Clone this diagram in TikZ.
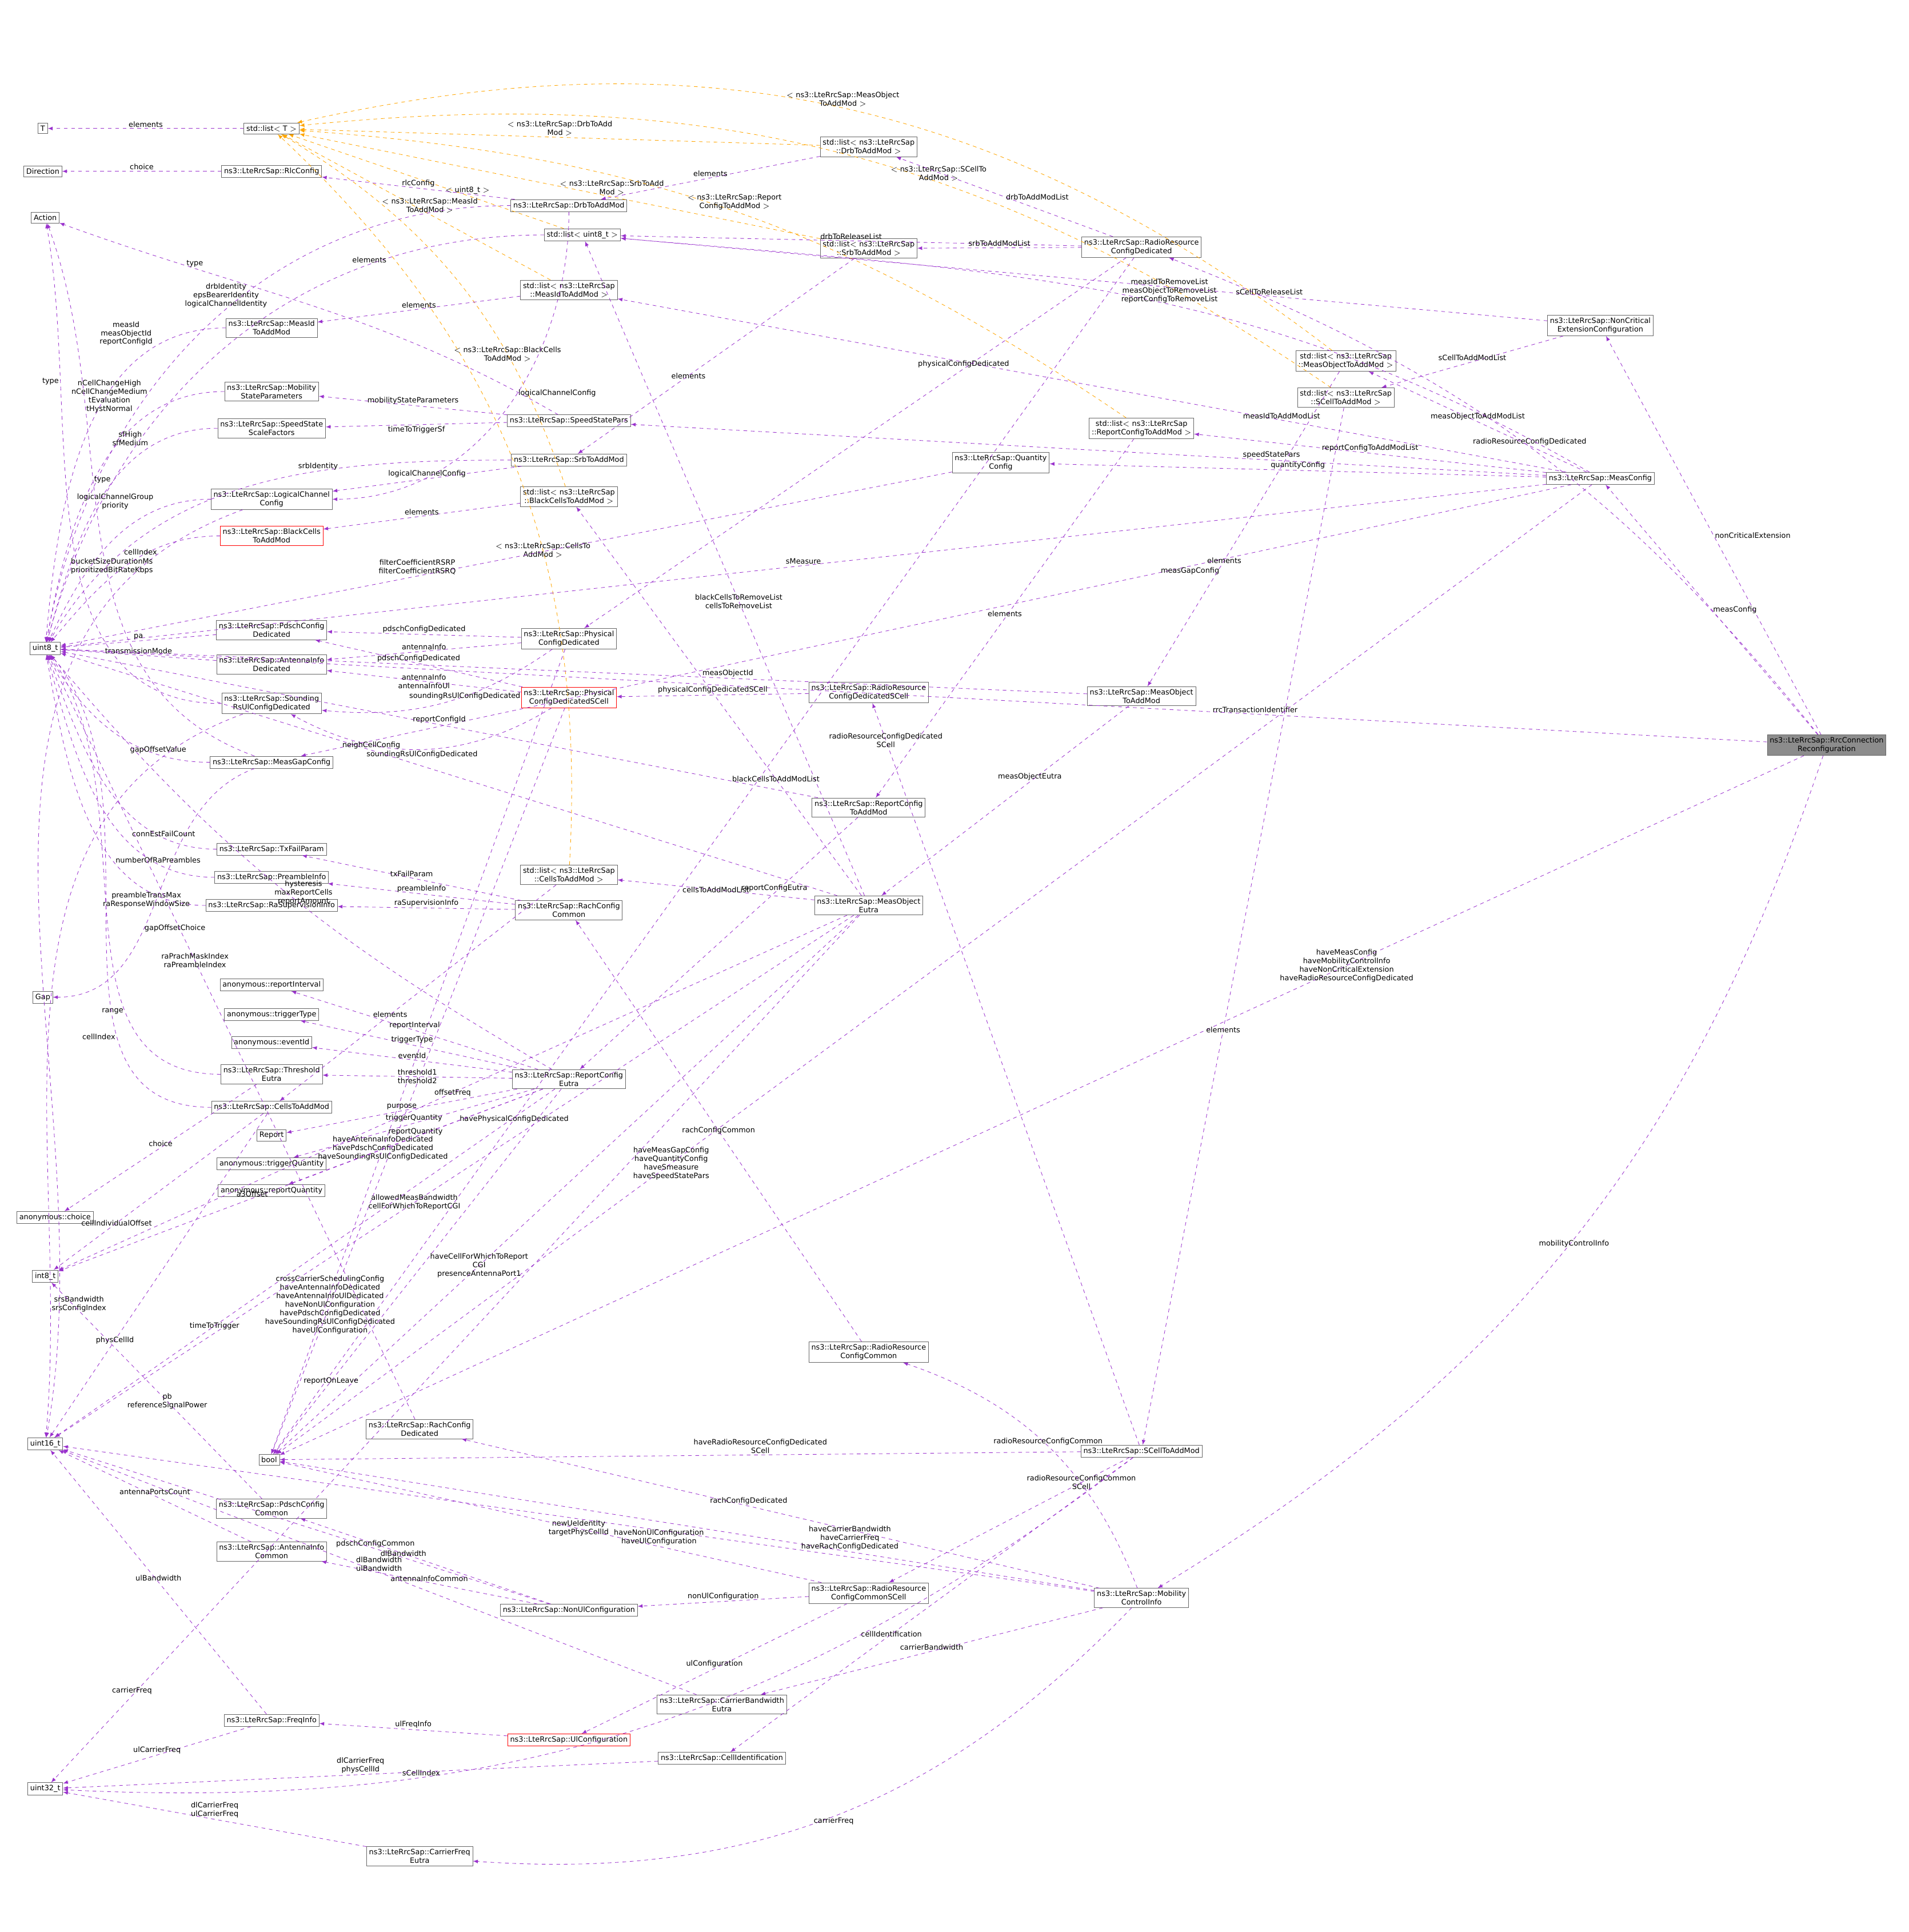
\documentclass[tikz,border=0pt]{standalone}
\usepackage{fontspec}
\setmainfont{DejaVu Sans}
\usetikzlibrary{arrows}
\definecolor{dep}{HTML}{9A32CD}
\definecolor{tpl}{HTML}{FFA500}
\begin{document}
\begin{tikzpicture}[x=1pt,y=-1pt,
box/.style={draw=black!60, fill=white, inner sep=2pt, align=center, font=\fontsize{6}{7}\selectfont},
redbox/.style={box, draw=red},
dep/.style={->, dashed, draw=dep},
tpl/.style={->, dashed, draw=tpl},
lbl/.style={font=\fontsize{6}{7}\selectfont, align=center, inner sep=1pt},
>=latex
]
\useasboundingbox (0,0) rectangle (1560,1579);
% left column
\node[box] (T) at (35,105) {T};
\node[box] (dir) at (35,140) {Direction};
\node[box] (act) at (37,178) {Action};
\node[box] (u8) at (37,530) {uint8\_t};
\node[box] (gap) at (35,815) {Gap};
\node[box] (achoice) at (45,995) {anonymous::choice};
\node[box] (i8) at (37,1043) {int8\_t};
\node[box] (u16) at (37,1180) {uint16\_t};
\node[box] (bool) at (220,1193) {bool};
\node[box] (u32) at (37,1462) {uint32\_t};
% second column
\node[box] (listT) at (222,105) {std::list$<$ T $>$};
\node[box] (rlc) at (222,140) {ns3::LteRrcSap::RlcConfig};
\node[box] (measid) at (222,268) {ns3::LteRrcSap::MeasId\\ToAddMod};
\node[box] (mobst) at (222,320) {ns3::LteRrcSap::Mobility\\StateParameters};
\node[box] (ssf) at (222,350) {ns3::LteRrcSap::SpeedState\\ScaleFactors};
\node[box] (lcc) at (222,408) {ns3::LteRrcSap::LogicalChannel\\Config};
\node[redbox] (black) at (222,438) {ns3::LteRrcSap::BlackCells\\ToAddMod};
\node[box] (pdschd) at (222,515) {ns3::LteRrcSap::PdschConfig\\Dedicated};
\node[box] (antd) at (222,543) {ns3::LteRrcSap::AntennaInfo\\Dedicated};
\node[box] (srs) at (222,575) {ns3::LteRrcSap::Sounding\\RsUlConfigDedicated};
\node[box] (mgap) at (222,623) {ns3::LteRrcSap::MeasGapConfig};
\node[box] (txf) at (222,694) {ns3::LteRrcSap::TxFailParam};
\node[box] (pre) at (222,717) {ns3::LteRrcSap::PreambleInfo};
\node[box] (rasup) at (222,740) {ns3::LteRrcSap::RaSupervisionInfo};
\node[box] (rint) at (222,805) {anonymous::reportInterval};
\node[box] (ttype) at (222,829) {anonymous::triggerType};
\node[box] (evid) at (222,852) {anonymous::eventId};
\node[box] (thr) at (222,878) {ns3::LteRrcSap::Threshold\\Eutra};
\node[box] (cells) at (222,905) {ns3::LteRrcSap::CellsToAddMod};
\node[box] (report) at (222,928) {Report};
\node[box] (tq) at (222,951) {anonymous::triggerQuantity};
\node[box] (rq) at (222,973) {anonymous::reportQuantity};
\node[box] (pdschc) at (222,1233) {ns3::LteRrcSap::PdschConfig\\Common};
\node[box] (antc) at (222,1268) {ns3::LteRrcSap::AntennaInfo\\Common};
\node[box] (freq) at (222,1406) {ns3::LteRrcSap::FreqInfo};
% third column
\node[box] (drb) at (465,168) {ns3::LteRrcSap::DrbToAddMod};
\node[box] (listu8) at (476,192) {std::list$<$ uint8\_t $>$};
\node[box] (listmeasid) at (465,237) {std::list$<$ ns3::LteRrcSap\\::MeasIdToAddMod $>$};
\node[box] (ssp) at (465,344) {ns3::LteRrcSap::SpeedStatePars};
\node[box] (srb) at (465,376) {ns3::LteRrcSap::SrbToAddMod};
\node[box] (listblack) at (465,406) {std::list$<$ ns3::LteRrcSap\\::BlackCellsToAddMod $>$};
\node[box] (pcd) at (465,522) {ns3::LteRrcSap::Physical\\ConfigDedicated};
\node[redbox] (pcds) at (465,570) {ns3::LteRrcSap::Physical\\ConfigDedicatedSCell};
\node[box] (listcells) at (465,715) {std::list$<$ ns3::LteRrcSap\\::CellsToAddMod $>$};
\node[box] (rachc) at (465,744) {ns3::LteRrcSap::RachConfig\\Common};
\node[box] (rce) at (465,882) {ns3::LteRrcSap::ReportConfig\\Eutra};
\node[box] (nonul) at (465,1316) {ns3::LteRrcSap::NonUlConfiguration};
\node[box] (rachd) at (343,1168) {ns3::LteRrcSap::RachConfig\\Dedicated};
\node[box] (cbw) at (590,1393) {ns3::LteRrcSap::CarrierBandwidth\\Eutra};
\node[redbox] (ul) at (465,1422) {ns3::LteRrcSap::UlConfiguration};
\node[box] (cid) at (590,1437) {ns3::LteRrcSap::CellIdentification};
\node[box] (cfe) at (343,1517) {ns3::LteRrcSap::CarrierFreq\\Eutra};
% fourth column
\node[box] (listdrb) at (710,120) {std::list$<$ ns3::LteRrcSap\\::DrbToAddMod $>$};
\node[box] (listsrb) at (710,203) {std::list$<$ ns3::LteRrcSap\\::SrbToAddMod $>$};
\node[box] (rrcds) at (710,566) {ns3::LteRrcSap::RadioResource\\ConfigDedicatedSCell};
\node[box] (rcam) at (710,660) {ns3::LteRrcSap::ReportConfig\\ToAddMod};
\node[box] (moe) at (710,740) {ns3::LteRrcSap::MeasObject\\Eutra};
\node[box] (rrcc) at (710,1105) {ns3::LteRrcSap::RadioResource\\ConfigCommon};
\node[box] (rrccs) at (710,1302) {ns3::LteRrcSap::RadioResource\\ConfigCommonSCell};
% fifth column
\node[box] (rrcd) at (933,202) {ns3::LteRrcSap::RadioResource\\ConfigDedicated};
\node[box] (qc) at (818,378) {ns3::LteRrcSap::Quantity\\Config};
\node[box] (listrc) at (933,350) {std::list$<$ ns3::LteRrcSap\\::ReportConfigToAddMod $>$};
\node[box] (moam) at (933,569) {ns3::LteRrcSap::MeasObject\\ToAddMod};
\node[box] (scell) at (933,1186) {ns3::LteRrcSap::SCellToAddMod};
\node[box] (mci) at (933,1306) {ns3::LteRrcSap::Mobility\\ControlInfo};
% right columns
\node[box] (listmo) at (1100,295) {std::list$<$ ns3::LteRrcSap\\::MeasObjectToAddMod $>$};
\node[box] (listsc) at (1100,325) {std::list$<$ ns3::LteRrcSap\\::SCellToAddMod $>$};
\node[box] (nce) at (1308,266) {ns3::LteRrcSap::NonCritical\\ExtensionConfiguration};
\node[box] (mc) at (1308,391) {ns3::LteRrcSap::MeasConfig};
\node[box, fill=black!45] (rcr) at (1493,609) {ns3::LteRrcSap::RrcConnection\\Reconfiguration};

% template instances
\draw[tpl] (listdrb) -- node[lbl,above] {$<$ ns3::LteRrcSap::DrbToAdd\\Mod $>$} (listT);
\draw[tpl] (listsrb) -- node[lbl,above,pos=0.4] {$<$ ns3::LteRrcSap::SrbToAdd\\Mod $>$} (listT);
\draw[tpl] (listu8) -- node[lbl,above,pos=0.35] {$<$ uint8\_t $>$} (listT);
\draw[tpl] (listmeasid) -- node[lbl,above,pos=0.45] {$<$ ns3::LteRrcSap::MeasId\\ToAddMod $>$} (listT);
\draw[tpl] (listblack) to[bend right=20] node[lbl,pos=0.3] {$<$ ns3::LteRrcSap::BlackCells\\ToAddMod $>$} (listT);
\draw[tpl] (listcells) to[bend right=25] node[lbl,pos=0.38] {$<$ ns3::LteRrcSap::CellsTo\\AddMod $>$} (listT);
\draw[tpl] (listmo) to[bend right=25] node[lbl,above] {$<$ ns3::LteRrcSap::MeasObject\\ToAddMod $>$} (listT);
\draw[tpl] (listsc) to[bend right=20] node[lbl,above,pos=0.4] {$<$ ns3::LteRrcSap::SCellTo\\AddMod $>$} (listT);
\draw[tpl] (listrc) to[bend right=15] node[lbl,above,pos=0.5] {$<$ ns3::LteRrcSap::Report\\ConfigToAddMod $>$} (listT);

% dependencies
\draw[dep] (listT) -- node[lbl,above] {elements} (T);
\draw[dep] (rlc) -- node[lbl,above] {choice} (dir);
\draw[dep] (rcr) to[bend right=15] node[lbl,above] {radioResourceConfigDedicated} (rrcd);
\draw[dep] (rcr) -- node[lbl,right] {nonCriticalExtension} (nce);
\draw[dep] (rcr) -- node[lbl,right] {measConfig} (mc);
\draw[dep] (rcr) to[bend left=20] node[lbl,below] {mobilityControlInfo} (mci);
\draw[dep] (rcr) -- node[lbl,above,pos=0.3] {rrcTransactionIdentifier} (u8);
\draw[dep] (rcr) -- node[lbl,pos=0.3] {haveMeasConfig\\haveMobilityControlInfo\\haveNonCriticalExtension\\haveRadioResourceConfigDedicated} (bool);
\draw[dep] (mc) -- node[lbl,above] {sMeasure} (u8);
\draw[dep] (mc) to[out=150,in=-5] node[lbl,pos=0.45,above] {measIdToRemoveList\\measObjectToRemoveList\\reportConfigToRemoveList} (listu8);
\draw[dep] (mc) -- node[lbl,above,pos=0.3] {measIdToAddModList} (listmeasid);
\draw[dep] (mc) -- node[lbl,above] {measObjectToAddModList} (listmo);
\draw[dep] (mc) -- node[lbl,above] {reportConfigToAddModList} (listrc);
\draw[dep] (mc) -- node[lbl,above] {quantityConfig} (qc);
\draw[dep] (mc) -- node[lbl,above,pos=0.3] {speedStatePars} (ssp);
\draw[dep] (mc) -- node[lbl,below,pos=0.3] {measGapConfig} (mgap);
\draw[dep] (mc) -- node[lbl,pos=0.7] {haveMeasGapConfig\\haveQuantityConfig\\haveSmeasure\\haveSpeedStatePars} (bool);
\draw[dep] (nce) -- node[lbl,above,pos=0.3] {sCellToReleaseList} (listu8);
\draw[dep] (nce) -- node[lbl,above] {sCellToAddModList} (listsc);
\draw[dep] (rrcd) -- node[lbl,right] {drbToAddModList} (listdrb);
\draw[dep] (rrcd) -- node[lbl,above] {drbToReleaseList} (listu8);
\draw[dep] (rrcd) -- node[lbl,above] {srbToAddModList} (listsrb);
\draw[dep] (rrcd) -- node[lbl,above,pos=0.3] {physicalConfigDedicated} (pcd);
\draw[dep] (rrcd) -- node[lbl,pos=0.72] {havePhysicalConfigDedicated} (bool);
\draw[dep] (listdrb) -- node[lbl,above] {elements} (drb);
\draw[dep] (listsrb) -- node[lbl,pos=0.6] {elements} (srb);
\draw[dep] (listmeasid) -- node[lbl,above] {elements} (measid);
\draw[dep] (listmo) -- node[lbl,pos=0.6] {elements} (moam);
\draw[dep] (listsc) -- node[lbl,pos=0.6] {elements} (scell);
\draw[dep] (listrc) -- node[lbl,above] {elements} (rcam);
\draw[dep] (listblack) -- node[lbl,above] {elements} (black);
\draw[dep] (listcells) -- node[lbl,pos=0.6] {elements} (cells);
\draw[dep] (listu8) to[out=180,in=75] node[lbl,above,pos=0.25] {elements} (u8);
\draw[dep] (drb) -- node[lbl,above] {rlcConfig} (rlc);
\draw[dep] (drb) to[out=180,in=80] node[lbl,above,pos=0.45] {drbIdentity\\epsBearerIdentity\\logicalChannelIdentity} (u8);
\draw[dep] (drb) to[out=-90,in=0] node[lbl,pos=0.45,right] {logicalChannelConfig} (lcc);
\draw[dep] (srb) -- node[lbl,above] {logicalChannelConfig} (lcc);
\draw[dep] (srb) to[out=180,in=60] node[lbl,above,pos=0.35] {srbIdentity} (u8);
\draw[dep] (measid) to[out=180,in=85] node[lbl,pos=0.2,above left] {measId\\measObjectId\\reportConfigId} (u8);
\draw[dep] (mobst) to[out=180,in=80] node[lbl,pos=0.25,above left] {nCellChangeHigh\\nCellChangeMedium\\tEvaluation\\tHystNormal} (u8);
\draw[dep] (ssf) to[out=180,in=75] node[lbl,pos=0.25,above left] {sfHigh\\sfMedium} (u8);
\draw[dep] (ssp) to[out=150,in=-20] node[lbl,above,pos=0.75] {type} (act);
\draw[dep] (ssp) -- node[lbl,above] {mobilityStateParameters} (mobst);
\draw[dep] (ssp) -- node[lbl,below] {timeToTriggerSf} (ssf);
\draw[dep] (lcc) to[out=180,in=65] node[lbl,pos=0.25,above left] {logicalChannelGroup\\priority} (u8);
\draw[dep] (lcc) to[out=200,in=80] node[lbl,pos=0.1,below left] {bucketSizeDurationMs\\prioritizedBitRateKbps} (u16);
\draw[dep] (black) to[out=180,in=50] node[lbl,pos=0.3,below left] {cellIndex} (u8);
\draw[dep] (qc) -- node[lbl,above,pos=0.6] {filterCoefficientRSRP\\filterCoefficientRSRQ} (u8);
\draw[dep] (pcd) -- node[lbl,above] {pdschConfigDedicated} (pdschd);
\draw[dep] (pcd) -- node[lbl,above] {antennaInfo} (antd);
\draw[dep] (pcd) to[bend left=20] node[lbl,pos=0.4] {soundingRsUlConfigDedicated} (srs);
\draw[dep] (pcd) -- node[lbl,pos=0.62] {haveAntennaInfoDedicated\\havePdschConfigDedicated\\haveSoundingRsUlConfigDedicated} (bool);
\draw[dep] (pcds) -- node[lbl,above] {pdschConfigDedicated} (pdschd);
\draw[dep] (pcds) -- node[lbl] {antennaInfo\\antennaInfoUl} (antd);
\draw[dep] (pcds) to[bend left=30] node[lbl,below] {soundingRsUlConfigDedicated} (srs);
\draw[dep] (pcds) -- node[lbl,pos=0.8] {crossCarrierSchedulingConfig\\haveAntennaInfoDedicated\\haveAntennaInfoUlDedicated\\haveNonUlConfiguration\\havePdschConfigDedicated\\haveSoundingRsUlConfigDedicated\\haveUlConfiguration} (bool);
\draw[dep] (pdschd) -- node[lbl,above] {pa} (u8);
\draw[dep] (antd) -- node[lbl,above] {transmissionMode} (u8);
\draw[dep] (srs) to[out=180,in=-80] node[lbl,pos=0.75,left] {type} (act);
\draw[dep] (srs) to[out=200,in=85] node[lbl,pos=0.85,right] {srsBandwidth\\srsConfigIndex} (u16);
\draw[dep] (mgap) to[out=160,in=-70] node[lbl,pos=0.6,right] {type} (act);
\draw[dep] (mgap) to[out=180,in=-60] node[lbl,above,pos=0.25] {gapOffsetValue} (u8);
\draw[dep] (mgap) to[out=200,in=0] node[lbl,pos=0.6,right] {gapOffsetChoice} (gap);
\draw[dep] (rrcds) -- node[lbl,above] {physicalConfigDedicatedSCell} (pcds);
\draw[dep] (scell) -- node[lbl,above,pos=0.4] {haveRadioResourceConfigDedicated\\SCell} (bool);
\draw[dep] (scell) -- node[lbl,pos=0.95] {radioResourceConfigDedicated\\SCell} (rrcds);
\draw[dep] (scell) -- node[lbl,pos=0.2] {radioResourceConfigCommon\\SCell} (rrccs);
\draw[dep] (scell) -- node[lbl,pos=0.6] {cellIdentification} (cid);
\draw[dep] (scell) to[bend left=20] node[lbl,pos=0.7,above] {sCellIndex} (u32);
\draw[dep] (moam) -- node[lbl,above,pos=0.35] {measObjectId} (u8);
\draw[dep] (moam) -- node[lbl,above,pos=0.4] {measObjectEutra} (moe);
\draw[dep] (rcam) -- node[lbl,above,pos=0.5] {reportConfigId} (u8);
\draw[dep] (rcam) -- node[lbl,above,pos=0.3] {reportConfigEutra} (rce);
\draw[dep] (moe) -- node[lbl,pos=0.45] {blackCellsToRemoveList\\cellsToRemoveList} (listu8);
\draw[dep] (moe) -- node[lbl,pos=0.3] {blackCellsToAddModList} (listblack);
\draw[dep] (moe) -- node[lbl,pos=0.5] {cellsToAddModList} (listcells);
\draw[dep] (moe) -- node[lbl,pos=0.6,above] {neighCellConfig} (u8);
\draw[dep] (moe) -- node[lbl,pos=0.5] {offsetFreq} (i8);
\draw[dep] (moe) -- node[lbl,pos=0.65] {haveCellForWhichToReport\\CGI\\presenceAntennaPort1} (bool);
\draw[dep] (moe) -- node[lbl,pos=0.55] {allowedMeasBandwidth\\cellForWhichToReportCGI} (u16);
\draw[dep] (moe) -- node[lbl,pos=0.9,above] {carrierFreq} (u32);
\draw[dep] (txf) to[out=180,in=-70] node[lbl,above,pos=0.2] {connEstFailCount} (u8);
\draw[dep] (pre) to[out=180,in=-75] node[lbl,above,pos=0.2] {numberOfRaPreambles} (u8);
\draw[dep] (rasup) to[out=180,in=-80] node[lbl,below,pos=0.2] {preambleTransMax\\raResponseWindowSize} (u8);
\draw[dep] (rachc) -- node[lbl,above] {txFailParam} (txf);
\draw[dep] (rachc) -- node[lbl,above] {preambleInfo} (pre);
\draw[dep] (rachc) -- node[lbl,above] {raSupervisionInfo} (rasup);
\draw[dep] (rce) to[out=150,in=-50] node[lbl,above,pos=0.45] {hysteresis\\maxReportCells\\reportAmount} (u8);
\draw[dep] (rce) -- node[lbl,above] {reportInterval} (rint);
\draw[dep] (rce) -- node[lbl,above] {triggerType} (ttype);
\draw[dep] (rce) -- node[lbl,above] {eventId} (evid);
\draw[dep] (rce) -- node[lbl] {threshold1\\threshold2} (thr);
\draw[dep] (rce) -- node[lbl,above] {purpose} (report);
\draw[dep] (rce) -- node[lbl,above] {triggerQuantity} (tq);
\draw[dep] (rce) -- node[lbl,above] {reportQuantity} (rq);
\draw[dep] (rce) -- node[lbl,above,pos=0.6] {a3Offset} (i8);
\draw[dep] (rce) -- node[lbl,pos=0.68] {timeToTrigger} (u16);
\draw[dep] (rce) -- node[lbl,pos=0.8] {reportOnLeave} (bool);
\draw[dep] (thr) to[out=180,in=-55] node[lbl,left,pos=0.3] {range} (u8);
\draw[dep] (thr) -- node[lbl,above] {choice} (achoice);
\draw[dep] (cells) to[out=180,in=-50] node[lbl,left,pos=0.3] {cellIndex} (u8);
\draw[dep] (cells) -- node[lbl,pos=0.7] {cellIndividualOffset} (i8);
\draw[dep] (cells) -- node[lbl,pos=0.7] {physCellId} (u16);
\draw[dep] (rachd) -- node[lbl,pos=0.6] {raPrachMaskIndex\\raPreambleIndex} (u8);
\draw[dep] (rrcc) -- node[lbl] {rachConfigCommon} (rachc);
\draw[dep] (mci) -- node[lbl,above,pos=0.55] {rachConfigDedicated} (rachd);
\draw[dep] (mci) to[bend right=25] node[lbl,above] {radioResourceConfigCommon} (rrcc);
\draw[dep] (mci) -- node[lbl,above] {carrierBandwidth} (cbw);
\draw[dep] (mci) to[bend left=25] node[lbl,below] {carrierFreq} (cfe);
\draw[dep] (mci) -- node[lbl,below,pos=0.5] {newUeIdentity\\targetPhysCellId} (u16);
\draw[dep] (mci) -- node[lbl,above,pos=0.3] {haveCarrierBandwidth\\haveCarrierFreq\\haveRachConfigDedicated} (bool);
\draw[dep] (pdschc) -- node[lbl,pos=0.45] {pb\\referenceSignalPower} (i8);
\draw[dep] (antc) -- node[lbl,above] {antennaPortsCount} (u16);
\draw[dep] (nonul) -- node[lbl,pos=0.7] {pdschConfigCommon} (pdschc);
\draw[dep] (nonul) -- node[lbl,above] {antennaInfoCommon} (antc);
\draw[dep] (nonul) -- node[lbl,above,pos=0.3] {dlBandwidth} (u16);
\draw[dep] (rrccs) -- node[lbl,above] {nonUlConfiguration} (nonul);
\draw[dep] (rrccs) -- node[lbl,above] {ulConfiguration} (ul);
\draw[dep] (rrccs) -- node[lbl,above,pos=0.3] {haveNonUlConfiguration\\haveUlConfiguration} (bool);
\draw[dep] (cbw) -- node[lbl,above] {dlBandwidth\\ulBandwidth} (u16);
\draw[dep] (ul) -- node[lbl,above] {ulFreqInfo} (freq);
\draw[dep] (freq) -- node[lbl,above] {ulBandwidth} (u16);
\draw[dep] (freq) -- node[lbl,above] {ulCarrierFreq} (u32);
\draw[dep] (cid) -- node[lbl,above] {dlCarrierFreq\\physCellId} (u32);
\draw[dep] (cfe) -- node[lbl,above] {dlCarrierFreq\\ulCarrierFreq} (u32);
\end{tikzpicture}
\end{document}
